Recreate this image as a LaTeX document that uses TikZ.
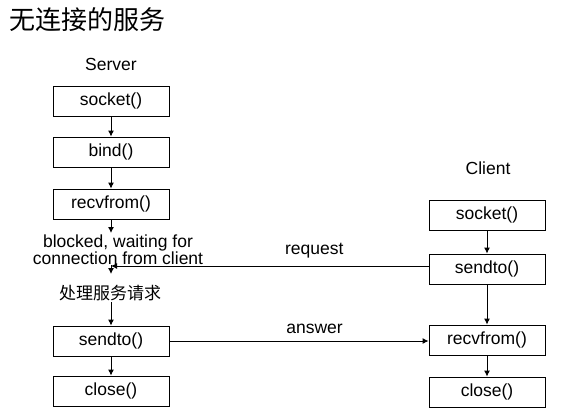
\documentclass[tikz,border=0pt]{standalone}
\usepackage{fontspec}
\setmainfont{Liberation Sans}
\newfontfamily\cjk{Noto Sans CJK SC}
\usepackage{xcolor}
\usepackage{tikz}
\usetikzlibrary{arrows.meta,positioning}

\begin{document}
\begin{tikzpicture}[
    x=1pt, y=-1pt,
    call/.style={rectangle, draw, line width=0.9pt, minimum width=116pt, minimum height=30pt, inner sep=0pt, font=\fontsize{17.5}{20}\selectfont},
    label/.style={font=\fontsize{17.5}{17}\selectfont, align=center, inner sep=1pt},
    arrow/.style={-{Latex[length=6pt,width=6pt]}, line width=0.9pt}
]
    \useasboundingbox (0,0) rectangle (567,410);

    % Title
    \node[anchor=west, inner sep=0pt, font=\cjk\fontsize{26}{28}\selectfont] (title) at (9,20) {无连接的服务};

    % Server
    \node[label] (server) at (111,64) {Server};
    \node[call] (ssock) at (111,101) {socket()};
    \node[call] (sbind) at (111,152) {bind()};
    \node[call] (srecv) at (111,204) {recvfrom()};
    \node[label] (wait) at (118,250) {blocked, waiting for\\connection from client};
    \node[label, font=\cjk\fontsize{17}{19}\selectfont] (serve) at (110,293) {处理服务请求};
    \node[call] (ssend) at (111,341) {sendto()};
    \node[call] (sclose) at (111,391) {close()};

    % Client
    \node[label] (client) at (488,168) {Client};
    \node[call] (csock) at (487,215) {socket()};
    \node[call] (csend) at (487,269) {sendto()};
    \node[call] (crecv) at (487,340) {recvfrom()};
    \node[call] (cclose) at (487,392) {close()};

    % Server arrows
    \draw[arrow] (ssock) -- (sbind);
    \draw[arrow] (sbind) -- (srecv);
    \draw[arrow] (srecv.south) -- (111,233);
    \draw[arrow] (111,265) -- (111,274);
    \draw[arrow] (serve.south -| ssend.north) -- (ssend.north);
    \draw[arrow] (ssend) -- (sclose);

    % Client arrows
    \draw[arrow] (csock) -- (csend);
    \draw[arrow] (csend) -- (crecv);
    \draw[arrow] (crecv) -- (cclose);

    % Messages
    \coordinate (meet) at (111,266);
    \draw[arrow] (csend.west |- meet) -- node[label, above=6pt, pos=0.36] {request} (meet);
    \draw[arrow] (ssend.east) -- node[label, above=6pt, pos=0.56] {answer} (crecv.west |- ssend.east);
\end{tikzpicture}
\end{document}
